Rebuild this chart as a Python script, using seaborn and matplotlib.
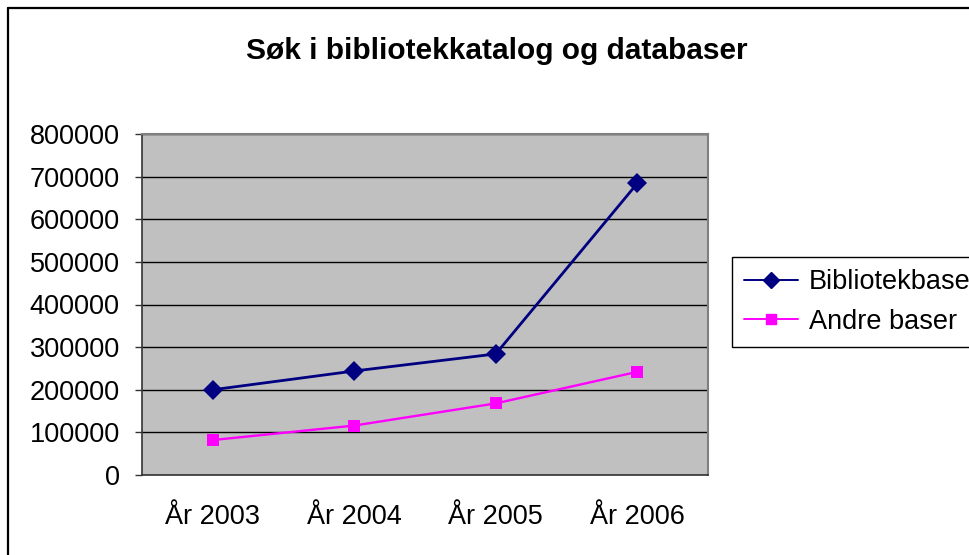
import numpy as np
import pandas as pd
import matplotlib
matplotlib.use("Agg")
import matplotlib.pyplot as plt
import seaborn as sns

years = ["År 2003", "År 2004", "År 2005", "År 2006"]
bibliotekbase = [200000, 244000, 284000, 684000]
andre_baser = [82000, 116000, 168000, 242000]
series_names = ["Bibliotekbase", "Andre baser"]

df = pd.DataFrame({
    "year": years * 2,
    "value": bibliotekbase + andre_baser,
    "serie": [series_names[0]] * 4 + [series_names[1]] * 4,
})

sns.set_style("white")
plt.rcParams["font.family"] = ["Liberation Sans", "DejaVu Sans"]
plt.rcParams["text.color"] = "black"
plt.rcParams["xtick.color"] = "black"
plt.rcParams["ytick.color"] = "black"

W, H = 969, 555
fig = plt.figure(figsize=(W / 100, H / 100), dpi=100)
ax = fig.add_axes([142 / W, 1 - 475 / H, (708 - 142) / W, (475 - 134) / H])
ax.set_facecolor("#C0C0C0")

sns.lineplot(data=df, x="year", y="value", hue="serie", style="serie",
             palette={"Bibliotekbase": "#000080", "Andre baser": "#FF00FF"},
             markers={"Bibliotekbase": "D", "Andre baser": "s"},
             dashes=False, sort=False, ax=ax, legend=False, zorder=3)

lines = ax.get_lines()
lines[0].set_linewidth(2.0)
lines[0].set_markersize(10)
lines[0].set_markeredgewidth(0)
lines[1].set_linewidth(1.7)
lines[1].set_markersize(9)
lines[1].set_markeredgewidth(0)

ax.set_xlim(-0.5, 3.5)
ax.set_ylim(0, 800000)
ax.set_yticks(np.arange(0, 800001, 100000))
ax.set_yticklabels([str(v) for v in range(0, 800001, 100000)], fontsize=19.5)
ax.set_xticks(range(4))
ax.set_xticklabels(years, fontsize=19.5)
ax.set_xticks(np.arange(-0.5, 4, 1), minor=True)
ax.tick_params(axis="x", which="major", length=0, pad=21)
ax.tick_params(axis="x", which="minor", length=5, width=1, color="#333333", direction="out")
ax.tick_params(axis="y", length=5, width=1, color="#333333", labelcolor="black",
               direction="out", pad=11, left=True)
ax.tick_params(axis="x", labelcolor="black")
ax.yaxis.grid(True, color="black", linewidth=1)
ax.set_axisbelow(True)
ax.set_xlabel("")
ax.set_ylabel("")

for side in ["left", "bottom"]:
    ax.spines[side].set_color("#333333")
    ax.spines[side].set_linewidth(1.2)
for side in ["top", "right"]:
    ax.spines[side].set_color("#808080")
    ax.spines[side].set_linewidth(1.5)

fig.text(497 / W, 1 - 51 / H, "Søk i bibliotekkatalog og databaser",
         ha="center", va="center", fontsize=21.5, fontweight="bold", color="black")

handles = [plt.Line2D([], [], color="#000080", marker="D", markersize=8, linewidth=1.4),
           plt.Line2D([], [], color="#FF00FF", marker="s", markersize=7, linewidth=1.4)]
leg = fig.legend(handles, series_names, loc="center left",
                 bbox_to_anchor=(732 / W, 1 - 302 / H), fontsize=19.5,
                 frameon=True, fancybox=False, framealpha=1, edgecolor="black",
                 handlelength=2.0, handletextpad=0.4, borderpad=0.45,
                 borderaxespad=0, labelspacing=0.5)
leg.get_frame().set_linewidth(1)
for t in leg.get_texts():
    t.set_color("black")

# border of the chart area (cut off at right and bottom)
fig.add_artist(plt.Line2D([8 / W, 8 / W], [0, 1 - 8 / H], color="black", linewidth=1.6))
fig.add_artist(plt.Line2D([8 / W, 1], [1 - 8 / H, 1 - 8 / H], color="black", linewidth=1.6))

fig.savefig("out.png", dpi=100)
